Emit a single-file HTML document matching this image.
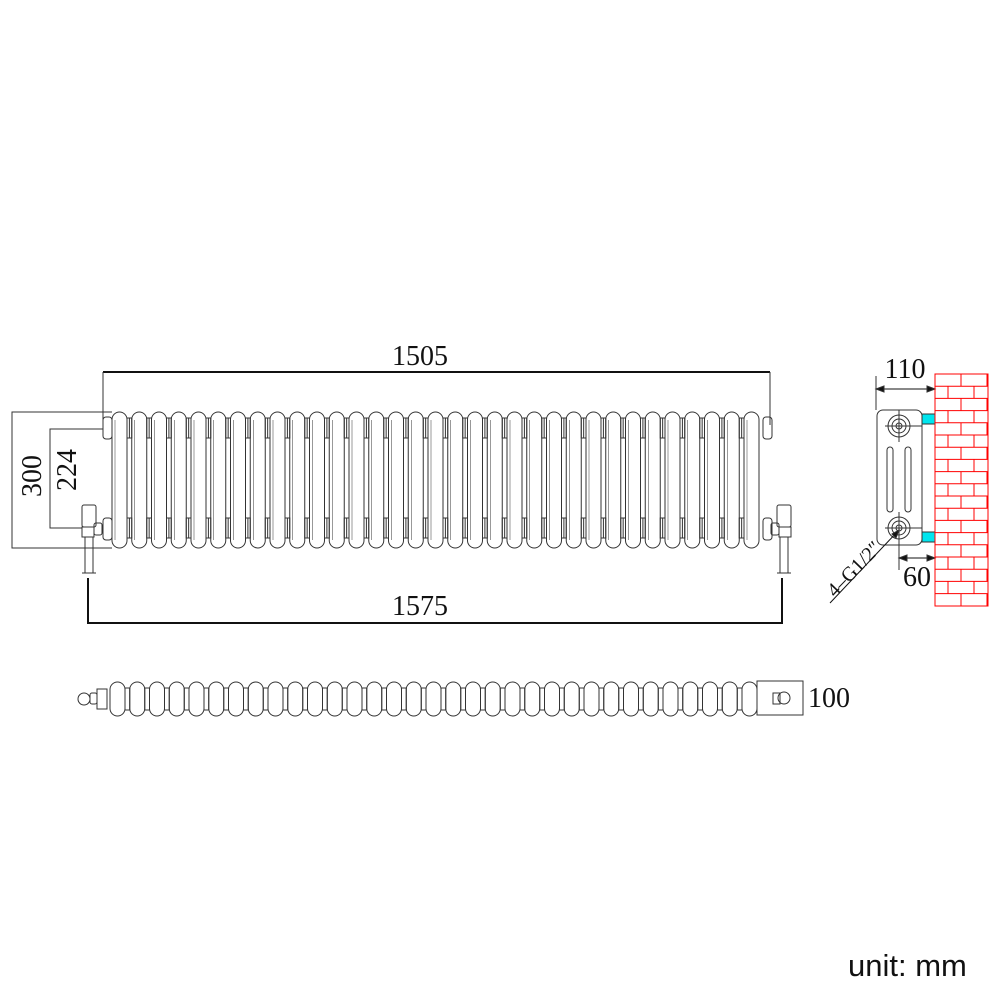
<!DOCTYPE html>
<html><head><meta charset="utf-8"><style>
html,body{margin:0;padding:0;background:#fff;width:1001px;height:1001px;overflow:hidden}
svg{display:block}
.t{font-family:"Liberation Serif",serif;font-size:28px;fill:#111}
</style></head><body>
<svg id="s" width="1001" height="1001" viewBox="0 0 1001 1001" xmlns="http://www.w3.org/2000/svg" fill="none" stroke="#333" stroke-width="1">
<line x1="103" y1="372" x2="770" y2="372" stroke="#111" stroke-width="2"/>
<line x1="103" y1="372" x2="103" y2="425"/>
<line x1="770" y1="372" x2="770" y2="425"/>
<text class="t" x="420" y="365" text-anchor="middle" stroke="none">1505</text>
<polyline points="112,412 12,412 12,548 112,548"/>
<text class="t" x="32" y="476" text-anchor="middle" transform="rotate(-90 32 476)" stroke="none" dy="9">300</text>
<polyline points="103,429 50,429 50,528 82,528"/>
<text class="t" x="67" y="470" text-anchor="middle" transform="rotate(-90 67 470)" stroke="none" dy="9">224</text>
<polyline points="88,578 88,623 782,623 782,578" stroke="#111" stroke-width="2"/>
<text class="t" x="420" y="615" text-anchor="middle" stroke="none">1575</text>
<g id="cols"></g>
<rect x="103" y="417" width="9" height="22" rx="3"/>
<rect x="103" y="518" width="9" height="22" rx="3"/>
<rect x="763" y="417" width="9" height="22" rx="3"/>
<rect x="763" y="518" width="9" height="22" rx="3"/>
<rect x="82" y="505" width="14" height="22" rx="2"/>
<rect x="82" y="527" width="12" height="10"/>
<rect x="94" y="523" width="8" height="12" rx="2"/>
<rect x="85" y="537" width="8" height="36"/>
<line x1="82" y1="573" x2="96" y2="573"/>
<rect x="777" y="505" width="14" height="22" rx="2"/>
<rect x="779" y="527" width="12" height="10"/>
<rect x="771" y="523" width="8" height="12" rx="2"/>
<rect x="780" y="537" width="8" height="36"/>
<line x1="777" y1="573" x2="791" y2="573"/>
<g id="topv"></g>
<circle cx="84" cy="699" r="6"/>
<rect x="90" y="693" width="7" height="11" rx="2"/>
<rect x="97" y="689" width="10" height="20"/>
<rect x="757" y="681" width="46" height="34"/>
<circle cx="784" cy="698" r="6"/>
<rect x="773" y="693" width="7" height="11"/>
<text class="t" x="808" y="707" stroke="none">100</text>
<line x1="876" y1="376" x2="876" y2="410"/>
<line x1="935" y1="376" x2="935" y2="410"/>
<line x1="876" y1="389" x2="935" y2="389" stroke="#111"/>
<path d="M876 389 l8 -3 v6z M935 389 l-8 -3 v6z" fill="#111"/>
<text class="t" x="905" y="378" text-anchor="middle" stroke="none">110</text>
<rect x="877" y="410" width="45" height="135" rx="6"/>
<circle cx="899" cy="426" r="11"/><circle cx="899" cy="426" r="7"/><circle cx="899" cy="426" r="3"/>
<circle cx="899" cy="528" r="11"/><circle cx="899" cy="528" r="7"/><circle cx="899" cy="528" r="3"/>
<line x1="899" y1="410" x2="899" y2="442"/><line x1="885" y1="426" x2="922" y2="426"/>
<line x1="899" y1="512" x2="899" y2="570"/><line x1="885" y1="528" x2="922" y2="528"/>
<rect x="887" y="447" width="6" height="65" rx="3"/>
<rect x="905" y="447" width="6" height="65" rx="3"/>
<rect x="922" y="414" width="13" height="10" fill="#00e5ee"/>
<rect x="922" y="532" width="13" height="10" fill="#00e5ee"/>
<line x1="899" y1="558" x2="935" y2="558" stroke="#111"/>
<path d="M935 558 l-8 -3 v6z M899 558 l8 -3 v6z" fill="#111"/>
<text class="t" x="917" y="586" text-anchor="middle" stroke="none">60</text>
<line x1="830" y1="603" x2="899" y2="530" stroke="#111"/>
<path d="M899 530 l-3 8 l-4 -4z" fill="#111"/>
<text class="t" x="0" y="0" style="font-size:20px" transform="translate(835 598) rotate(-46)" stroke="none">4–G1/2″</text>
<g id="wall" stroke="#f00"></g>
</svg>
<script>
(function(){
var ns="http://www.w3.org/2000/svg";
function el(p,t,a){var e=document.createElementNS(ns,t);for(var k in a)e.setAttribute(k,a[k]);p.appendChild(e);return e;}
var cols=document.getElementById('cols');
for(var i=0;i<33;i++){var x=112+i*19.75;
el(cols,'rect',{x:x,y:412,width:15,height:136,rx:7.5});
if(i<32){var g=x+15;
el(cols,'rect',{x:g,y:418,width:4.75,height:20});
el(cols,'rect',{x:g,y:518,width:4.75,height:20});
el(cols,'line',{x1:g+2.4,y1:418,x2:g+2.4,y2:438});
el(cols,'line',{x1:g+2.4,y1:518,x2:g+2.4,y2:538});}
el(cols,'line',{x1:x+3,y1:420,x2:x+3,y2:540,'stroke-width':0.5});
}
var tv=document.getElementById('topv');
for(var i=0;i<33;i++){var x=110+i*19.75;
el(tv,'rect',{x:x,y:682,width:15,height:34,rx:7.5});
if(i<32){el(tv,'rect',{x:x+15,y:688,width:4.75,height:22});}
}
var w=document.getElementById('wall');
el(w,'rect',{x:935,y:374,width:53,height:232});
for(var r=0;r<19;r++){var y=374+r*12.2;
if(r>0)el(w,'line',{x1:935,y1:y,x2:988,y2:y});
var off=(r%2)?13:0;
for(var x=935+off;x<988;x+=26){if(x>935)el(w,'line',{x1:x,y1:y,x2:x,y2:y+12.2});}
}
})();
</script>
<div style="position:absolute;left:848px;top:948px;font-family:'Liberation Sans',sans-serif;font-size:31px;color:#111">unit: mm</div>
</body></html>
